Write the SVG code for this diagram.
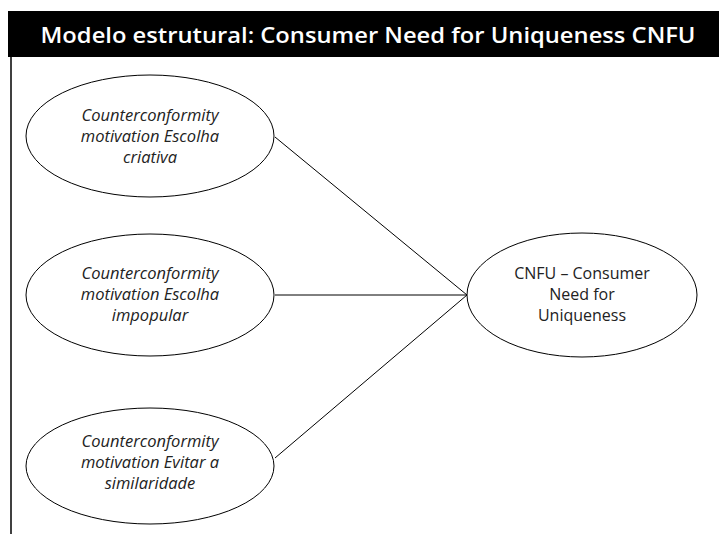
<svg xmlns="http://www.w3.org/2000/svg" width="719" height="534" viewBox="0 0 719 534">
<style>
.node ellipse{fill:#fff;stroke:#000;stroke-width:1}
.t{font-family:"Open Sans","Liberation Sans",sans-serif;font-size:16.5px;font-style:italic;fill:#222;text-anchor:middle}
.r{font-family:"Open Sans","Liberation Sans",sans-serif;font-size:16px;fill:#222;text-anchor:middle}
#connectors line{stroke:#000;stroke-width:1}
</style>
<rect x="0" y="0" width="719" height="534" fill="#fff"/>
<rect x="8" y="11" width="711" height="46" fill="#000"/>
<text x="368" y="43" font-family="'Open Sans','Liberation Sans',sans-serif" font-size="22" font-weight="600" fill="#fff" text-anchor="middle" textLength="655" lengthAdjust="spacingAndGlyphs">Modelo estrutural: Consumer Need for Uniqueness CNFU</text>
<line x1="11" y1="57" x2="11" y2="534" stroke="#000" stroke-width="1.5"/>
<g id="connectors">
<line x1="275" y1="137" x2="467" y2="295"/>
<line x1="275" y1="295" x2="467" y2="295"/>
<line x1="275" y1="458" x2="467" y2="295"/>
</g>
<g id="n1" class="node">
<ellipse cx="150" cy="136" rx="124" ry="61"/>
<text class="t" x="150" y="121">Counterconformity</text>
<text class="t" x="150" y="142">motivation Escolha</text>
<text class="t" x="150" y="163">criativa</text>
</g>
<g id="n2" class="node">
<ellipse cx="150" cy="295" rx="124" ry="61"/>
<text class="t" x="150" y="279">Counterconformity</text>
<text class="t" x="150" y="300">motivation Escolha</text>
<text class="t" x="150" y="321">impopular</text>
</g>
<g id="n3" class="node">
<ellipse cx="150" cy="466" rx="124" ry="58"/>
<text class="t" x="150" y="447">Counterconformity</text>
<text class="t" x="150" y="468">motivation Evitar a</text>
<text class="t" x="150" y="489">similaridade</text>
</g>
<g id="n4" class="node">
<ellipse cx="582" cy="295" rx="115" ry="62"/>
<text class="r" x="582" y="279">CNFU – Consumer</text>
<text class="r" x="582" y="300">Need for</text>
<text class="r" x="582" y="321">Uniqueness</text>
</g>
</svg>
